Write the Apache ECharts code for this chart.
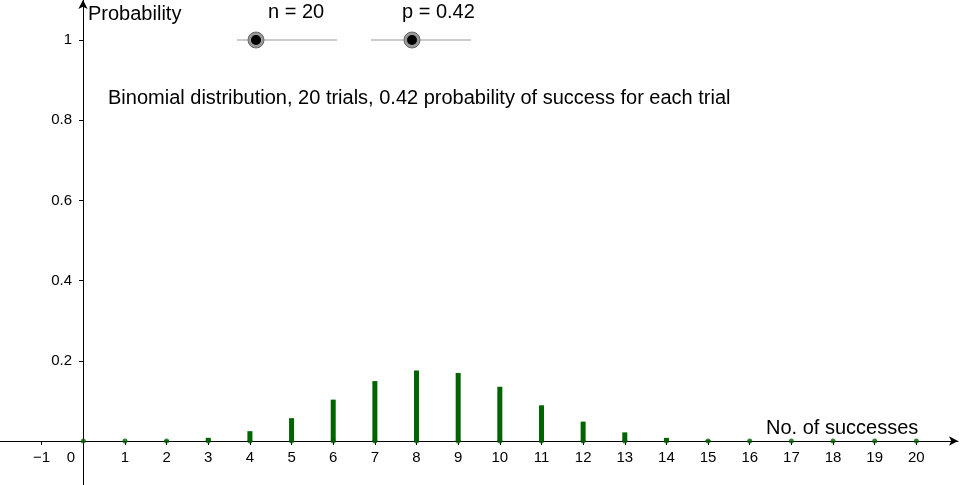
<!DOCTYPE html>
<html>
<head>
<meta charset="utf-8">
<script src="https://cdn.jsdelivr.net/npm/echarts@6/dist/echarts.min.js"></script>
<style>
  html, body { margin: 0; padding: 0; background: #fff; }
  #chart { width: 960px; height: 485px; }
</style>
</head>
<body>
<div id="chart"></div>
<script>
// Binomial distribution n = 20, p = 0.42
const successes = [0, 1, 2, 3, 4, 5, 6, 7, 8, 9, 10, 11, 12, 13, 14, 15, 16, 17, 18, 19, 20];
const probabilities = [0.00002, 0.00027, 0.0018, 0.008, 0.0246, 0.057, 0.1032, 0.1495, 0.1759, 0.1698,
  0.1353, 0.0891, 0.0484, 0.0216, 0.0078, 0.0023, 0.0005, 0.0001, 0.00001, 0, 0];
const xTicks = [-1, 0, 1, 2, 3, 4, 5, 6, 7, 8, 9, 10, 11, 12, 13, 14, 15, 16, 17, 18, 19, 20];
const yTicks = [0.2, 0.4, 0.6, 0.8, 1];

const green = '#006400';
const font = 'Liberation Sans, Arial, sans-serif';

const chart = echarts.init(document.getElementById('chart'));
chart.setOption({
  animation: false,
  grid: { left: 0, right: 2, top: 0, bottom: 0, containLabel: false, outerBoundsMode: 'none' },
  xAxis: {
    type: 'value', min: -2, max: 21, position: 'bottom', offset: -44,
    splitLine: { show: false },
    axisLine: { onZero: false, lineStyle: { color: '#000', width: 1 }, symbol: ['none', 'arrow'], symbolSize: [7, 9] },
    axisTick: { show: true, customValues: xTicks, length: 4, lineStyle: { color: '#000' } },
    axisLabel: {
      customValues: xTicks, color: '#000', fontSize: 15, fontFamily: font, margin: 9,
      formatter: v => (v < 0 ? '\u2212' + Math.abs(v) : (v === 0 ? '0      ' : String(v)))
    }
  },
  yAxis: {
    type: 'value', min: -0.1097, max: 1.1, position: 'left', offset: -83,
    splitLine: { show: false },
    axisLine: { onZero: false, lineStyle: { color: '#000', width: 1 }, symbol: ['none', 'arrow'], symbolSize: [7, 9] },
    axisTick: { show: true, customValues: yTicks, length: 4, lineStyle: { color: '#000' } },
    axisLabel: { customValues: yTicks, color: '#000', fontSize: 15, fontFamily: font, margin: 11 }
  },
  series: [
    {
      type: 'bar',
      data: successes.map((k, i) => [k, probabilities[i]]),
      barWidth: 5,
      itemStyle: { color: green },
      z: 3
    },
    {
      type: 'scatter',
      data: successes.map(k => [k, 0]),
      symbolSize: 5,
      itemStyle: { color: green },
      z: 4
    }
  ],
  graphic: [
    { type: 'text', left: 88, top: 4, style: { text: 'Probability', font: '20px ' + font, fill: '#000' } },
    { type: 'text', left: 766, top: 418, style: { text: 'No. of successes', font: '20px ' + font, fill: '#000' } },
    { type: 'text', left: 108, top: 88, style: { text: 'Binomial distribution, 20 trials, 0.42 probability of success for each trial', font: '20px ' + font, fill: '#000' } },
    { type: 'text', left: 268, top: 2, style: { text: 'n = 20', font: '20px ' + font, fill: '#000' } },
    { type: 'text', left: 402, top: 2, style: { text: 'p = 0.42', font: '20px ' + font, fill: '#000' } },
    { type: 'line', shape: { x1: 237, y1: 40, x2: 337, y2: 40 }, style: { stroke: '#999', lineWidth: 1 } },
    { type: 'line', shape: { x1: 371, y1: 40, x2: 471, y2: 40 }, style: { stroke: '#999', lineWidth: 1 } },
    { type: 'circle', shape: { cx: 256, cy: 40, r: 8 }, style: { fill: '#999', stroke: '#666', lineWidth: 1 } },
    { type: 'circle', shape: { cx: 256, cy: 40, r: 5 }, style: { fill: '#000' } },
    { type: 'circle', shape: { cx: 412, cy: 40, r: 8 }, style: { fill: '#999', stroke: '#666', lineWidth: 1 } },
    { type: 'circle', shape: { cx: 412, cy: 40, r: 5 }, style: { fill: '#000' } }
  ]
});
</script>
</body>
</html>
